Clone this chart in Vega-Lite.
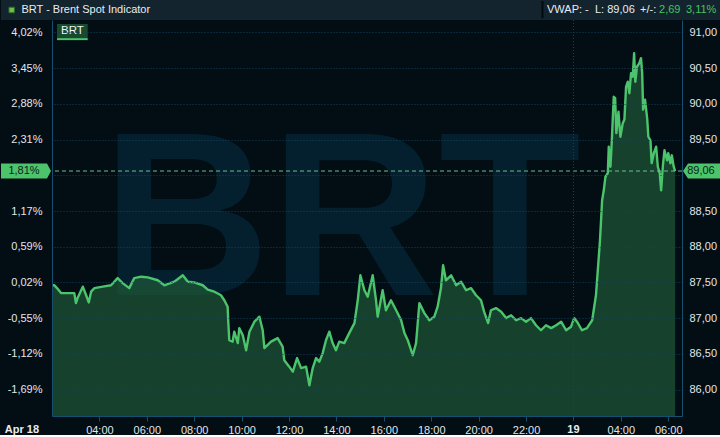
{
  "$schema": "https://vega.github.io/schema/vega-lite/v6.json",
  "padding": 0,
  "background": "#020d14",
  "config": {"view": {"stroke": null}, "font": "Liberation Sans"},
  "datasets": {
    "brt": [
      {"t":0,"p":87.46},{"t":0.1,"p":87.46},{"t":0.21,"p":87.42},{"t":0.38,"p":87.35},{"t":0.66,"p":87.35},{"t":0.94,"p":87.35},{"t":1.01,"p":87.21},{"t":1.08,"p":87.28},{"t":1.3,"p":87.44},{"t":1.44,"p":87.32},{"t":1.55,"p":87.22},{"t":1.65,"p":87.37},{"t":1.79,"p":87.42},{"t":2.14,"p":87.44},{"t":2.49,"p":87.46},{"t":2.77,"p":87.56},{"t":2.98,"p":87.49},{"t":3.26,"p":87.42},{"t":3.47,"p":87.56},{"t":3.76,"p":87.58},{"t":4.04,"p":87.57},{"t":4.46,"p":87.53},{"t":4.74,"p":87.46},{"t":5.16,"p":87.51},{"t":5.52,"p":87.6},{"t":5.73,"p":87.51},{"t":6.0,"p":87.5},{"t":6.36,"p":87.46},{"t":6.57,"p":87.4},{"t":6.85,"p":87.37},{"t":7.13,"p":87.32},{"t":7.27,"p":87.25},{"t":7.41,"p":87.16},{"t":7.44,"p":86.93},{"t":7.48,"p":86.69},{"t":7.62,"p":86.67},{"t":7.69,"p":86.81},{"t":7.84,"p":86.65},{"t":7.9,"p":86.86},{"t":8.05,"p":86.76},{"t":8.19,"p":86.55},{"t":8.33,"p":86.81},{"t":8.54,"p":86.95},{"t":8.75,"p":87.02},{"t":8.89,"p":86.83},{"t":8.96,"p":86.58},{"t":9.24,"p":86.67},{"t":9.52,"p":86.72},{"t":9.73,"p":86.6},{"t":9.8,"p":86.41},{"t":10.01,"p":86.32},{"t":10.16,"p":86.25},{"t":10.34,"p":86.44},{"t":10.51,"p":86.3},{"t":10.72,"p":86.32},{"t":10.86,"p":86.06},{"t":11.0,"p":86.3},{"t":11.14,"p":86.44},{"t":11.28,"p":86.39},{"t":11.42,"p":86.51},{"t":11.56,"p":86.69},{"t":11.7,"p":86.81},{"t":11.84,"p":86.65},{"t":11.98,"p":86.55},{"t":12.12,"p":86.67},{"t":12.33,"p":86.65},{"t":12.54,"p":86.79},{"t":12.76,"p":86.93},{"t":12.9,"p":87.25},{"t":13.01,"p":87.6},{"t":13.18,"p":87.39},{"t":13.32,"p":87.3},{"t":13.53,"p":87.6},{"t":13.67,"p":87.25},{"t":13.74,"p":87.02},{"t":13.95,"p":87.39},{"t":14.09,"p":87.11},{"t":14.3,"p":87.25},{"t":14.52,"p":87.11},{"t":14.73,"p":86.97},{"t":14.87,"p":86.79},{"t":15.01,"p":86.69},{"t":15.22,"p":86.48},{"t":15.36,"p":86.65},{"t":15.5,"p":87.21},{"t":15.71,"p":87.07},{"t":15.92,"p":86.97},{"t":16.13,"p":87.02},{"t":16.27,"p":87.16},{"t":16.41,"p":87.42},{"t":16.5,"p":87.74},{"t":16.62,"p":87.53},{"t":16.84,"p":87.6},{"t":17.05,"p":87.46},{"t":17.26,"p":87.51},{"t":17.47,"p":87.39},{"t":17.68,"p":87.42},{"t":17.89,"p":87.32},{"t":18.1,"p":87.25},{"t":18.23,"p":87.09},{"t":18.4,"p":86.93},{"t":18.52,"p":87.11},{"t":18.73,"p":87.14},{"t":18.95,"p":87.09},{"t":19.16,"p":87.0},{"t":19.37,"p":87.04},{"t":19.58,"p":86.97},{"t":19.79,"p":87.0},{"t":20.0,"p":86.95},{"t":20.21,"p":87.0},{"t":20.42,"p":86.9},{"t":20.63,"p":86.83},{"t":20.84,"p":86.9},{"t":21.06,"p":86.86},{"t":21.27,"p":86.9},{"t":21.48,"p":86.95},{"t":21.69,"p":86.83},{"t":21.9,"p":86.88},{"t":22.03,"p":87.0},{"t":22.15,"p":86.95},{"t":22.36,"p":86.83},{"t":22.57,"p":86.86},{"t":22.79,"p":86.97},{"t":22.95,"p":87.32},{"t":23.12,"p":88.09},{"t":23.21,"p":88.65},{"t":23.28,"p":88.79},{"t":23.35,"p":88.98},{"t":23.45,"p":89.03},{"t":23.49,"p":89.4},{"t":23.56,"p":89.12},{"t":23.62,"p":89.49},{"t":23.7,"p":90.1},{"t":23.76,"p":90.08},{"t":23.81,"p":89.59},{"t":23.9,"p":89.89},{"t":23.98,"p":89.54},{"t":24.08,"p":89.73},{"t":24.15,"p":89.78},{"t":24.22,"p":90.24},{"t":24.29,"p":90.31},{"t":24.36,"p":90.15},{"t":24.43,"p":90.43},{"t":24.5,"p":90.38},{"t":24.56,"p":90.71},{"t":24.61,"p":90.31},{"t":24.68,"p":90.52},{"t":24.78,"p":90.57},{"t":24.85,"p":90.64},{"t":24.9,"p":90.43},{"t":24.94,"p":89.92},{"t":25.02,"p":90.06},{"t":25.11,"p":89.8},{"t":25.16,"p":89.54},{"t":25.25,"p":89.49},{"t":25.3,"p":89.17},{"t":25.39,"p":89.31},{"t":25.49,"p":89.4},{"t":25.56,"p":89.12},{"t":25.64,"p":89.03},{"t":25.7,"p":88.79},{"t":25.77,"p":89.12},{"t":25.84,"p":89.35},{"t":25.95,"p":89.21},{"t":26.0,"p":89.31},{"t":26.09,"p":89.17},{"t":26.15,"p":89.28},{"t":26.23,"p":89.12},{"t":26.29,"p":89.06}
    ]
  },
  "width": 630,
  "height": 396,
  "view": {"stroke": null},
  "layer": [
    {
      "data": {"values": [{}]},
      "mark": {"type": "text", "text": "BRT", "fontSize": 233, "fontWeight": "bold", "align": "center", "baseline": "alphabetic", "color": "#04202e", "opacity": 1},
      "encoding": {
        "x": {"datum": 12.215, "type": "quantitative", "scale": {"domain": [0, 26.58], "nice": false, "zero": false}},
        "y": {"datum": 87.32, "type": "quantitative", "scale": {"domain": [85.629, 91.175], "nice": false, "zero": false}, "axis": null}}
    },
    {
      "data": {"name": "brt"},
      "encoding": {
        "x": {"field": "t", "type": "quantitative", "scale": {"domain": [0, 26.58], "nice": false, "zero": false},
              "axis": {"title": null, "values": [2, 4, 6, 8, 10, 12, 14, 16, 18, 20, 24, 26],
                       "labelExpr": "datum.value < 22 ? ((datum.value + 2 < 10 ? '0' : '') + (datum.value + 2) + ':00') : ('0' + (datum.value - 20) + ':00')",
                       "tickColor": "#17506e", "grid": false, "ticks": true,
                       "tickSize": 5, "labelPadding": 3, "domain": true, "domainColor": "#17506e", "labels": true,
                       "labelFlush": false, "labelOverlap": false, "labelColor": "#e1e7eb", "labelFontSize": 11, "zindex": 1}},
        "y": {"field": "p", "type": "quantitative", "scale": {"domain": [85.629, 91.175], "nice": false, "zero": false},
              "axis": {"orient": "right", "title": null, "values": [86, 86.5, 87, 87.5, 88, 88.5, 89, 89.5, 90, 90.5, 91],
                       "labelExpr": "datum.value == 89 ? '' : replace(format(datum.value, '.2f'), '.', ',')",
                       "grid": true, "gridColor": "#12425a", "gridDash": [1, 2],
                       "ticks": false, "labelPadding": 7, "domainColor": "#17506e",
                       "labelColor": "#e1e7eb", "labelFontSize": 11, "labelOverlap": false, "zindex": 1}}
      },
      "layer": [
        {"mark": {"type": "area", "color": "#1f5a37", "opacity": 0.7},
         "encoding": {"y2": {"datum": 85.629}}},
        {"mark": {"type": "line", "color": "#4cc46c", "strokeWidth": 2.4, "strokeJoin": "round"}}
      ]
    },
    {
      "data": {"values": [{}]},
      "encoding": {
        "y": {"datum": 89.06, "type": "quantitative", "scale": {"domain": [85.629, 91.175], "nice": false, "zero": false},
              "axis": {"orient": "left", "title": null, "values": [86, 86.5, 87, 87.5, 88, 88.5, 89, 89.5, 90, 90.5, 91],
                       "labelExpr": "datum.value == 89 ? '' : replace(replace(format((datum.value / 87.48 - 1) * 100, '.2f'), '.', ','), '−', '-') + '%'",
                       "grid": false, "ticks": false, "labelPadding": 10, "domainColor": "#17506e",
                       "labelColor": "#e1e7eb", "labelFontSize": 11, "labelOverlap": false, "zindex": 1}}
      },
      "layer": [
        {"mark": {"type": "rect", "color": "#14242f"},
         "encoding": {
           "x": {"datum": -2.152, "type": "quantitative", "scale": {"domain": [0, 26.58], "nice": false, "zero": false}},
           "x2": {"datum": 28.224},
           "y": {"datum": 91.455},
           "y2": {"datum": 91.175}}},
        {"mark": {"type": "point", "shape": "square", "filled": true, "size": 30, "color": "#6cc04a", "stroke": "#2f6b2a", "strokeWidth": 1, "opacity": 1},
         "encoding": {
           "x": {"datum": -1.7, "type": "quantitative", "scale": {"domain": [0, 26.58], "nice": false, "zero": false}},
           "y": {"datum": 91.315}}},
        {"mark": {"type": "text", "text": "BRT - Brent Spot Indicator", "align": "left", "baseline": "middle", "fontSize": 11, "color": "#e8edf0"},
         "encoding": {
           "x": {"datum": -1.287, "type": "quantitative", "scale": {"domain": [0, 26.58], "nice": false, "zero": false}},
           "y": {"datum": 91.315}}},
        {"mark": {"type": "rule", "color": "#03090e", "strokeWidth": 2},
         "encoding": {
           "x": {"datum": 20.694, "type": "quantitative", "scale": {"domain": [0, 26.58], "nice": false, "zero": false}},
           "y": {"datum": 91.44},
           "y2": {"datum": 91.2}}},
        {"mark": {"type": "text", "text": "VWAP: -", "align": "left", "baseline": "middle", "fontSize": 11, "color": "#e8edf0"},
         "encoding": {
           "x": {"datum": 20.884, "type": "quantitative", "scale": {"domain": [0, 26.58], "nice": false, "zero": false}},
           "y": {"datum": 91.315}}},
        {"mark": {"type": "text", "text": "L: 89,06", "align": "left", "baseline": "middle", "fontSize": 11, "color": "#e8edf0"},
         "encoding": {
           "x": {"datum": 22.909, "type": "quantitative", "scale": {"domain": [0, 26.58], "nice": false, "zero": false}},
           "y": {"datum": 91.315}}},
        {"mark": {"type": "text", "text": "+/-:", "align": "left", "baseline": "middle", "fontSize": 11, "color": "#e8edf0"},
         "encoding": {
           "x": {"datum": 24.808, "type": "quantitative", "scale": {"domain": [0, 26.58], "nice": false, "zero": false}},
           "y": {"datum": 91.315}}},
        {"mark": {"type": "text", "text": "2,69", "align": "left", "baseline": "middle", "fontSize": 11, "color": "#45c35f"},
         "encoding": {
           "x": {"datum": 25.61, "type": "quantitative", "scale": {"domain": [0, 26.58], "nice": false, "zero": false}},
           "y": {"datum": 91.315}}},
        {"mark": {"type": "text", "text": "3,11%", "align": "left", "baseline": "middle", "fontSize": 11, "color": "#45c35f"},
         "encoding": {
           "x": {"datum": 26.749, "type": "quantitative", "scale": {"domain": [0, 26.58], "nice": false, "zero": false}},
           "y": {"datum": 91.315}}},
        {"mark": {"type": "rule", "color": "#6cbf8e", "strokeDash": [4, 3], "strokeWidth": 1}},
        {"mark": {"type": "rect", "color": "#1a4a2e"},
         "encoding": {
           "x": {"datum": 0.21, "type": "quantitative", "scale": {"domain": [0, 26.58], "nice": false, "zero": false}},
           "x2": {"datum": 1.506},
           "y": {"datum": 91.119},
           "y2": {"datum": 90.92}}},
        {"mark": {"type": "rule", "color": "#4cc46c", "strokeWidth": 2},
         "encoding": {
           "x": {"datum": 0.21, "type": "quantitative", "scale": {"domain": [0, 26.58], "nice": false, "zero": false}},
           "x2": {"datum": 1.506},
           "y": {"datum": 90.907}}},
        {"mark": {"type": "text", "text": "BRT", "fontSize": 11.5, "align": "center", "baseline": "middle", "color": "#f0f3f5"},
         "encoding": {
           "x": {"datum": 0.86, "type": "quantitative", "scale": {"domain": [0, 26.58], "nice": false, "zero": false}},
           "y": {"datum": 91.02}}},
        {"mark": {"type": "point", "shape": "M-1,0L-0.74,-0.395L1,-0.395L1,0.395L-0.74,0.395Z", "filled": true, "size": 1444, "color": "#4cc46c", "opacity": 1},
         "encoding": {
           "x": {"datum": 27.426, "type": "quantitative", "scale": {"domain": [0, 26.58], "nice": false, "zero": false}}}},
        {"mark": {"type": "text", "text": "89,06", "fontSize": 11, "align": "center", "baseline": "middle", "color": "#0b1f15"},
         "encoding": {
           "x": {"datum": 27.38, "type": "quantitative", "scale": {"domain": [0, 26.58], "nice": false, "zero": false}}}},
        {"mark": {"type": "point", "shape": "M-1,-0.3L0.84,-0.3L1,0L0.84,0.3L-1,0.3Z", "filled": true, "size": 2500, "color": "#4cc46c", "opacity": 1},
         "encoding": {"x": {"datum": -1.097, "type": "quantitative", "scale": {"domain": [0, 26.58], "nice": false, "zero": false}}}},
        {"mark": {"type": "text", "text": "1,81%", "fontSize": 11, "align": "center", "baseline": "middle", "color": "#0b1f15"},
         "encoding": {"x": {"datum": -1.18, "type": "quantitative", "scale": {"domain": [0, 26.58], "nice": false, "zero": false}}}}
      ]
    },
    {
      "data": {"values": [{}]},
      "layer": [
        {"mark": {"type": "rule", "color": "#14465f", "strokeDash": [1, 2], "strokeWidth": 1},
         "encoding": {
           "x": {"datum": 22, "type": "quantitative", "scale": {"domain": [0, 26.58], "nice": false, "zero": false}}}},
        {"mark": {"type": "text", "text": "Apr 18", "fontSize": 11, "fontWeight": "bold", "align": "center", "baseline": "middle", "color": "#e8edf0"},
         "encoding": {
           "x": {"datum": -1.266, "type": "quantitative", "scale": {"domain": [0, 26.58], "nice": false, "zero": false}},
           "y": {"datum": 85.433, "type": "quantitative", "scale": {"domain": [85.629, 91.175], "nice": false, "zero": false}, "axis": null}}},
        {"mark": {"type": "text", "text": "19", "fontSize": 11, "fontWeight": "bold", "align": "center", "baseline": "middle", "color": "#e8edf0"},
         "encoding": {
           "x": {"datum": 22, "type": "quantitative", "scale": {"domain": [0, 26.58], "nice": false, "zero": false}},
           "y": {"datum": 85.433, "type": "quantitative", "scale": {"domain": [85.629, 91.175], "nice": false, "zero": false}, "axis": null}}},
        {"mark": {"type": "rule", "color": "#17506e", "strokeWidth": 1},
         "encoding": {
           "x": {"datum": 22, "type": "quantitative", "scale": {"domain": [0, 26.58], "nice": false, "zero": false}},
           "y": {"datum": 85.629, "type": "quantitative", "scale": {"domain": [85.629, 91.175], "nice": false, "zero": false}, "axis": null},
           "y2": {"datum": 85.559}}}
      ]
    }
  ],
  "resolve": {"scale": {"y": "independent"}}
}
